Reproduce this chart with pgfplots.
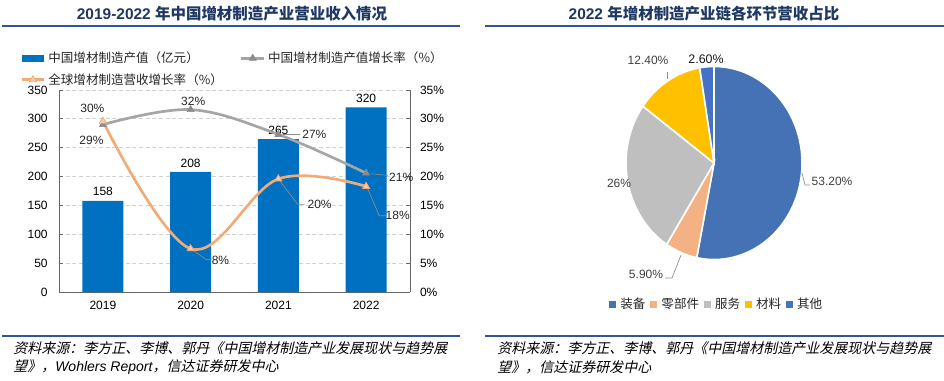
\documentclass[border=0pt]{standalone}
\usepackage{pgfplots}
\usepackage{pgfplotstable}
\pgfplotsset{compat=1.18}
\usepackage{fontspec}
\setmainfont{Liberation Sans}
\newfontfamily\cjk{Noto Sans CJK SC}
\newfontfamily\cjkit{Noto Sans CJK SC}[FakeSlant=0.22]
\definecolor{barblue}{HTML}{0070C0}
\definecolor{grayL}{HTML}{A5A5A5}
\definecolor{grayM}{HTML}{8C8C8C}
\definecolor{orangeL}{HTML}{F8CBAD}
\definecolor{orangeM}{HTML}{F3AA79}
\definecolor{titleC}{HTML}{1F3864}
\definecolor{ruleC}{HTML}{2F5597}
\definecolor{pieA}{HTML}{4472B4}
\definecolor{pieB}{HTML}{F4B183}
\definecolor{pieC}{HTML}{BFBFBF}
\definecolor{pieD}{HTML}{FFC000}
\definecolor{pieE}{HTML}{4472C4}
\definecolor{txtC}{HTML}{404040}
\newcommand\fs{\fontsize{9}{10.8}\selectfont}
\newcommand\fl{\fontsize{9.4}{11}\selectfont}
\pgfplotsset{
  grayline/.style={color=grayL, line width=2pt, smooth, tension=0.6, mark=triangle*, mark size=3pt,
    mark options={solid, line width=0.5pt, fill=grayM, draw=grayM}},
  orangeline/.style={color=orangeM, line width=2pt, smooth, tension=0.6, mark=triangle*, mark size=3pt,
    mark options={solid, line width=0.6pt, fill=orangeL, draw=orangeM}},
}
\pgfplotstableread{
x y val cum c
0 0 53.2 0 0
0 0 5.9 53.2 1
0 0 26 59.1 2
0 0 12.4 85.1 3
0 0 2.6 97.5 4
}\piedata
\begin{document}
\begin{tikzpicture}
\path[use as bounding box] (0pt,0pt) rectangle (708pt,285pt);
\begin{scope}[x=0.75pt,y=0.75pt]
% titles and rules
\node[font=\fontsize{11.6}{13}\selectfont\bfseries, text=titleC] at (232,366) {2019-2022 {\cjk 年中国增材制造产业营业收入情况}};
\node[font=\fontsize{11.6}{13}\selectfont\bfseries, text=titleC] at (704,366) {2022 {\cjk 年增材制造产业链各环节营收占比}};
\draw[ruleC, line width=1.1pt] (2,354) -- (460,354);
\draw[ruleC, line width=1.1pt] (485,354) -- (944,354);
\draw[ruleC, line width=1.1pt] (2,44) -- (460,44);
\draw[ruleC, line width=1.1pt] (485,44) -- (944,44);
% footers
\node[anchor=west, font=\fontsize{10.5}{12}\selectfont, inner sep=0pt] at (13,32) {\cjkit 资料来源：李方正、李博、郭丹《中国增材制造产业发展现状与趋势展};
\node[anchor=west, font=\fontsize{10.5}{12}\selectfont, inner sep=0pt] at (13,13) {{\cjkit 望》，}{\itshape Wohlers Report}{\cjkit ，信达证券研发中心}};
\node[anchor=west, font=\fontsize{10.5}{12}\selectfont, inner sep=0pt] at (497,32) {\cjkit 资料来源：李方正、李博、郭丹《中国增材制造产业发展现状与趋势展};
\node[anchor=west, font=\fontsize{10.5}{12}\selectfont, inner sep=0pt] at (497,13) {\cjkit 望》，信达证券研发中心};
\end{scope}

% ---------- left chart: bars ----------
\begin{axis}[
  at={(44.25pt,66pt)}, anchor=south west, scale only axis,
  width=263.25pt, height=151.5pt,
  xmin=-0.5, xmax=3.5, ymin=0, ymax=350,
  xtick={0,1,2,3}, xticklabels={2019,2020,2021,2022},
  ytick={0,50,...,350},
  axis x line*=bottom, axis y line*=left,
  axis line style={-, black!60, line width=0.6pt},
  xtick style={draw=none},
  ytick style={black!60, line width=0.6pt},
  tick align=inside, major tick length=3pt,
  ymajorgrids, grid style={dash pattern=on 3pt off 2pt, black!18, line width=0.6pt},
  tick label style={font=\fs, text=black},
  /pgf/number format/assume math mode=true,
  xticklabel style={yshift=-3pt},
  yticklabel style={xshift=-5pt},
  legend style={at={(-0.111,1.203)}, anchor=north west, draw=none, fill=none, font=\fl,
    text=black!85, row sep=2.5pt, cells={anchor=west}, inner sep=0pt},
  clip=false,
]
\addplot[ybar, bar width=30.75pt, fill=barblue, draw=none,
  nodes near coords, nodes near coords style={font=\fs, text=black},
  legend image code/.code={\fill[barblue] (0pt,-2.8pt) rectangle (17pt,2.8pt);}]
  coordinates {(0,158) (1,208) (2,265) (3,320)};
\addlegendentry{\cjk 中国增材制造产值（亿元）}
\addlegendimage{orangeline}
\addlegendentry{\cjk 全球增材制造营收增长率（\%）}
\end{axis}

% ---------- left chart: growth lines ----------
\begin{axis}[
  at={(44.25pt,66pt)}, anchor=south west, scale only axis,
  width=263.25pt, height=151.5pt,
  xmin=-0.5, xmax=3.5, ymin=0, ymax=35, ytick={0,5,...,35},
  axis y line*=right, axis x line=none,
  axis line style={-, black!60, line width=0.6pt},
  ytick style={black!60, line width=0.6pt}, tick align=inside, major tick length=3pt,
  yticklabel={\pgfmathprintnumber{\tick}\%},
  tick label style={font=\fs, text=black}, yticklabel style={xshift=4pt},
  /pgf/number format/assume math mode=true,
  legend style={at={(0.515,1.203)}, anchor=north west, draw=none, fill=none, font=\fl,
    text=black!85, cells={anchor=west}, inner sep=0pt},
  clip=false,
]
\addplot[grayline] coordinates {(0,29) (1,31.6) (2,27.3) (3,20.6)};
\addlegendentry{\cjk 中国增材制造产值增长率（\%）}
\addplot[orangeline, forget plot] coordinates {(0,29.6) (1,7.5) (2,19.6) (3,18.3)};
% leader lines
\draw[black!45, line width=0.5pt] (axis cs:2.05,27.3) -- (axis cs:2.25,27.3);
\draw[black!45, line width=0.5pt] (axis cs:3.05,20.5) -- (axis cs:3.25,20.2);
\draw[black!45, line width=0.5pt] (axis cs:1.03,7.2) -- (axis cs:1.18,5.6) -- (axis cs:1.24,5.6);
\draw[black!45, line width=0.5pt] (axis cs:2.02,19.2) -- (axis cs:2.22,15.2) -- (axis cs:2.3,15.2);
\draw[black!45, line width=0.5pt] (axis cs:3.02,17.8) -- (axis cs:3.15,13.2) -- (axis cs:3.23,13.2);
% labels
\node[font=\fs, text=black!85] at (axis cs:-0.13,26.2) {29\%};
\node[font=\fs, text=black!85] at (axis cs:-0.12,31.9) {30\%};
\node[font=\fs, text=black!85] at (axis cs:1.03,33.1) {32\%};
\node[font=\fs, text=black!85] at (axis cs:2.41,27.4) {27\%};
\node[font=\fs, text=black!85] at (axis cs:3.40,19.9) {21\%};
\node[font=\fs, text=black!85] at (axis cs:1.34,5.4) {8\%};
\node[font=\fs, text=black!85] at (axis cs:2.47,15.1) {20\%};
\node[font=\fs, text=black!85] at (axis cs:3.36,13.3) {18\%};
\end{axis}

% ---------- right chart: pie ----------
\begin{axis}[
  at={(535.5pt,162.75pt)}, anchor=center, scale only axis,
  width=132pt, height=144.75pt, hide axis,
  xmin=-1, xmax=1, ymin=-1, ymax=1, clip=false,
  legend columns=-1,
  legend style={at={(0.517,-0.2306)}, anchor=center, draw=none, fill=none,
    font=\fl, text=black!85, column sep=1.5pt, inner sep=0pt},
]
\addplot[scatter, only marks, mark=*, mark size=0pt, mark options={draw=none, fill=none},
  visualization depends on={\thisrow{val}\as\sval},
  visualization depends on={\thisrow{cum}\as\scum},
  visualization depends on={\thisrow{c}\as\sidx},
  scatter/@pre marker code/.code={%
    \pgfmathsetmacro\aS{90-\scum*3.6/1.001}%
    \pgfmathsetmacro\aE{90-(\scum+\sval)*3.6/1.001}%
    \pgfmathtruncatemacro\ii{round(\sidx)}%
    \ifcase\ii\relax \def\scol{pieA}\or\def\scol{pieB}\or\def\scol{pieC}\or\def\scol{pieD}\or\def\scol{pieE}\fi
    \path[fill=\scol, draw=white, line width=1.2pt] (0pt,0pt) -- (\aS:66pt and 72.4pt)
      arc[start angle=\aS, end angle=\aE, x radius=66pt, y radius=72.4pt] -- cycle;
  },
  scatter/@post marker code/.code={},
  forget plot]
  table[x=x, y=y] {\piedata};
\addlegendimage{legend image code/.code={\fill[pieA] (0pt,-2.3pt) rectangle (4.6pt,2.3pt);}}
\addlegendentry{\cjk 装备\hspace{8pt}}
\addlegendimage{legend image code/.code={\fill[pieB] (0pt,-2.3pt) rectangle (4.6pt,2.3pt);}}
\addlegendentry{\cjk 零部件\hspace{8pt}}
\addlegendimage{legend image code/.code={\fill[pieC] (0pt,-2.3pt) rectangle (4.6pt,2.3pt);}}
\addlegendentry{\cjk 服务\hspace{8pt}}
\addlegendimage{legend image code/.code={\fill[pieD] (0pt,-2.3pt) rectangle (4.6pt,2.3pt);}}
\addlegendentry{\cjk 材料\hspace{8pt}}
\addlegendimage{legend image code/.code={\fill[pieE] (0pt,-2.3pt) rectangle (4.6pt,2.3pt);}}
\addlegendentry{\cjk 其他}
\end{axis}

\begin{scope}[x=0.75pt,y=0.75pt]
% pie labels
\draw[black!45, line width=0.5pt] (802,207) -- (805,195) -- (810,195);
\draw[black!45, line width=0.5pt] (681,125) -- (672,102) -- (665,102);
\draw[black!45, line width=0.5pt] (667,308) -- (667,301);
\node[font=\fs, text=txtC] at (832,199) {53.20\%};
\node[font=\fs, text=txtC] at (646,106) {5.90\%};
\node[font=\fs, text=txtC] at (619,197) {26\%};
\node[font=\fs, text=txtC] at (648,320) {12.40\%};
\node[font=\fontsize{9.3}{11}\selectfont, text=black!90] at (706,321) {2.60\%};
\end{scope}
\end{tikzpicture}
\end{document}
